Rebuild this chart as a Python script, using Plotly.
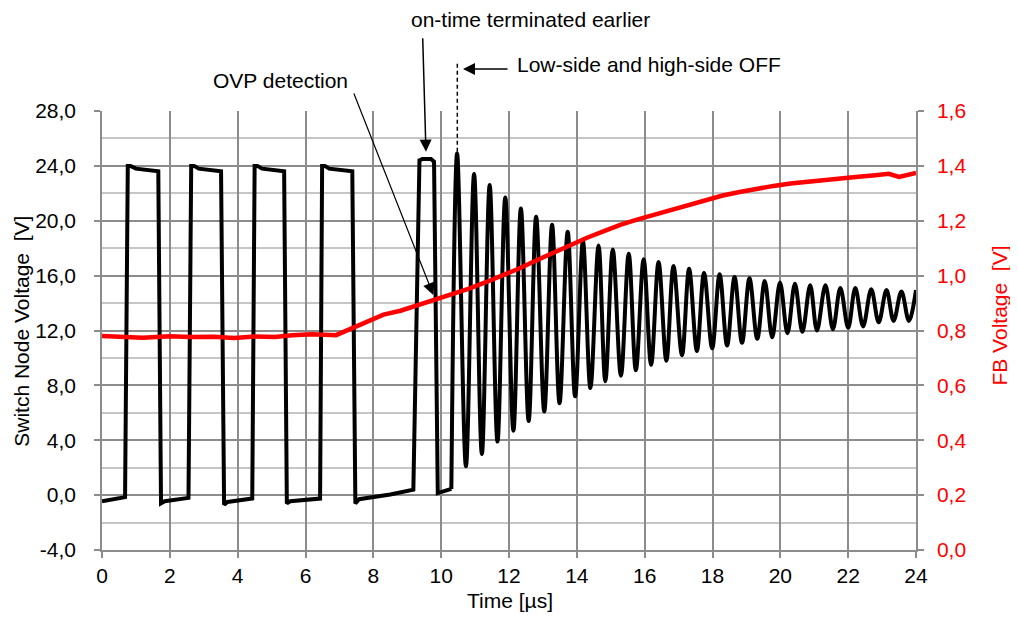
import plotly.graph_objects as go

# ---------------- data ----------------
# Switch node voltage, switching section (corner points, linear segments)
sw_t = [0.00, 0.68, 0.76, 0.84, 1.00, 1.66, 1.74, 1.85, 2.55, 2.63, 2.72, 2.85, 3.51, 3.60, 3.70,
        4.43, 4.50, 4.58, 4.72, 5.37, 5.45, 5.55, 6.43, 6.49, 6.57, 6.70, 7.38, 7.47, 7.58, 8.50,
        9.18, 9.36, 9.45, 9.70, 9.79, 9.90, 10.30]
sw_v = [-0.45, -0.15, 24.0, 24.0, 23.8, 23.6, -0.6, -0.45, -0.2, 24.0, 24.0, 23.8, 23.6, -0.7, -0.5,
        -0.25, 24.0, 24.0, 23.8, 23.6, -0.6, -0.45, -0.25, 24.0, 24.0, 23.8, 23.6, -0.6, -0.3, 0.05,
        0.4, 24.4, 24.5, 24.5, 24.3, 0.15, 0.45]

# Switch node voltage, ringing after both FETs are off (peaks / troughs)
ring_t = [10.30, 10.47, 10.73, 10.97, 11.20, 11.43, 11.66, 11.89, 12.13, 12.35, 12.58, 12.80, 13.04,
          13.27, 13.49, 13.73, 13.95, 14.18, 14.40, 14.64, 14.84, 15.06, 15.30, 15.53, 15.74, 15.97,
          16.19, 16.41, 16.64, 16.85, 17.10, 17.31, 17.54, 17.75, 17.99, 18.21, 18.43, 18.65, 18.87,
          19.09, 19.32, 19.54, 19.76, 19.99, 20.21, 20.43, 20.65, 20.88, 21.08, 21.33, 21.55, 21.77,
          22.00, 22.21, 22.44, 22.68, 22.90, 23.13, 23.34, 23.57, 23.79, 24.00]
ring_v = [0.45, 24.9, 2.1, 23.4, 3.0, 22.6, 3.9, 21.7, 4.7, 20.9, 5.4, 20.3, 6.1,
          19.7, 6.7, 19.2, 7.2, 18.5, 7.8, 18.2, 8.3, 17.9, 8.7, 17.6, 9.1, 17.2,
          9.5, 17.0, 9.8, 16.7, 10.2, 16.5, 10.5, 16.2, 10.7, 16.1, 10.9, 15.9, 11.1,
          15.8, 11.4, 15.6, 11.5, 15.5, 11.8, 15.4, 11.9, 15.3, 12.0, 15.3, 12.1, 15.1,
          12.2, 15.1, 12.3, 15.0, 12.6, 14.95, 12.7, 14.85, 12.7, 14.95]

# FB voltage (right axis)
fb_t = [0.0, 0.6, 1.2, 2.0, 2.6, 3.3, 3.9, 4.5, 5.1, 5.6, 6.2, 6.9, 7.4, 7.9, 8.3, 8.8, 9.3, 9.8,
        10.3, 10.8, 11.3, 11.8, 12.3, 12.8, 13.3, 13.8, 14.3, 14.8, 15.3, 15.8, 16.3, 16.8, 17.3,
        17.8, 18.3, 18.8, 19.3, 19.8, 20.3, 20.8, 21.3, 21.8, 22.3, 22.8, 23.2, 23.5, 23.7, 24.0]
fb_v = [0.780, 0.776, 0.774, 0.779, 0.776, 0.777, 0.773, 0.778, 0.776, 0.783, 0.786, 0.783, 0.810,
        0.840, 0.858, 0.872, 0.892, 0.908, 0.930, 0.952, 0.975, 1.000, 1.026, 1.055, 1.083, 1.112,
        1.138, 1.162, 1.186, 1.205, 1.222, 1.240, 1.258, 1.277, 1.292, 1.305, 1.317, 1.327, 1.336,
        1.343, 1.349, 1.355, 1.360, 1.366, 1.371, 1.360, 1.365, 1.374]

x_ticks = [0, 2, 4, 6, 8, 10, 12, 14, 16, 18, 20, 22, 24]
y_ticks = [-4, 0, 4, 8, 12, 16, 20, 24, 28]
y_ticklabels = ["-4,0", "0,0", "4,0", "8,0", "12,0", "16,0", "20,0", "24,0", "28,0"]
y2_ticks = [0.0, 0.2, 0.4, 0.6, 0.8, 1.0, 1.2, 1.4, 1.6]
y2_ticklabels = ["0,0", "0,2", "0,4", "0,6", "0,8", "1,0", "1,2", "1,4", "1,6"]

FONT = "Liberation Sans, Arial, Helvetica, sans-serif"
GRID_MAJOR = "#8c8c8c"
GRID_MINOR = "#c6c6c6"
RED = "#ff0000"

fig = go.Figure()
fig.add_trace(go.Scatter(x=sw_t, y=sw_v, mode="lines", line=dict(color="black", width=4),
                         showlegend=False, hoverinfo="skip"))
fig.add_trace(go.Scatter(x=ring_t, y=ring_v, mode="lines",
                         line=dict(color="black", width=4, shape="spline", smoothing=1.0),
                         showlegend=False, hoverinfo="skip"))
fig.add_trace(go.Scatter(x=fb_t, y=fb_v, mode="lines", yaxis="y2",
                         line=dict(color=RED, width=4.5), showlegend=False, hoverinfo="skip"))

# ---------------- annotations ----------------
txt = dict(xref="paper", yref="paper", xanchor="left", yanchor="middle", showarrow=False,
           font=dict(size=21))
ann = [
    dict(text="on-time terminated earlier", x=0.3768, y=1.2073, **txt),
    dict(text="Low-side and high-side OFF", x=0.507, y=1.107, **txt),
    dict(text="OVP detection", x=0.1343, y=1.0706, **txt),
]
# arrows (tip in paper coords, tail offset in pixels)
arrow_style = dict(text="", showarrow=True, arrowhead=2, arrowsize=1.6, arrowwidth=1.5,
                   arrowcolor="black", xref="paper", yref="paper", axref="pixel", ayref="pixel",
                   standoff=0)
ann.append(dict(x=0.398, y=0.9073, ax=-3.3, ay=-115, **arrow_style))
ann.append(dict(x=0.4435, y=1.0957, ax=46, ay=0, **arrow_style))
ann.append(dict(x=0.407, y=0.5809, ax=-80, ay=-203,
                **{**arrow_style, "arrowwidth": 1.2, "arrowsize": 2.0}))
# axis titles
ttl = dict(xref="paper", yref="paper", showarrow=False, xanchor="center", yanchor="middle")
ann.append(dict(text="Switch Node Voltage\u00a0 [V]", x=-0.0985, y=0.499, textangle=-90,
                font=dict(size=21), **ttl))
ann.append(dict(text="FB Voltage\u00a0 [V]", x=1.1025, y=0.535, textangle=-90,
                font=dict(size=21, color=RED), **ttl))
ann.append(dict(text="Time [µs]", x=0.501, y=-0.116, font=dict(size=21), **ttl))

fig.update_layout(
    width=1002, height=604, autosize=False,
    margin=dict(l=94, r=94, t=103, b=62, pad=0),
    paper_bgcolor="white", plot_bgcolor="white",
    font=dict(family=FONT, size=21, color="black"),
    annotations=ann,
    shapes=[dict(type="line", xref="paper", yref="paper", x0=0.4365, x1=0.4365, y0=0.907, y1=1.110,
                 line=dict(color="black", width=1.5, dash="4px,3px"))],
    xaxis=dict(range=[0, 24], tickmode="array", tickvals=x_ticks,
               ticks="outside", ticklen=6, tickwidth=1.5, tickcolor=GRID_MAJOR,
               showgrid=True, gridcolor=GRID_MAJOR, gridwidth=1.5,
               showline=True, linecolor=GRID_MAJOR, linewidth=2, zeroline=False,
               ticklabelstandoff=0, tickfont=dict(size=21)),
    yaxis=dict(range=[-4, 28], tickmode="array", tickvals=y_ticks, ticktext=y_ticklabels,
               ticks="outside", ticklen=6, tickwidth=1.5, tickcolor=GRID_MAJOR,
               showgrid=True, gridcolor=GRID_MAJOR, gridwidth=1.5,
               minor=dict(tickmode="linear", tick0=-4, dtick=2, showgrid=True,
                          gridcolor=GRID_MINOR, gridwidth=1.5, ticks=""),
               showline=True, linecolor=GRID_MAJOR, linewidth=1.5, zeroline=False,
               ticklabelstandoff=14, tickfont=dict(size=21)),
    yaxis2=dict(range=[0, 1.6], tickmode="array", tickvals=y2_ticks, ticktext=y2_ticklabels,
                overlaying="y", side="right",
                ticks="outside", ticklen=6, tickwidth=1.5, tickcolor=GRID_MAJOR,
                showgrid=False, showline=True, linecolor=GRID_MAJOR, linewidth=1.5,
                zeroline=False, ticklabelstandoff=9, tickfont=dict(size=21, color=RED)),
)

fig.write_html("out.html")
